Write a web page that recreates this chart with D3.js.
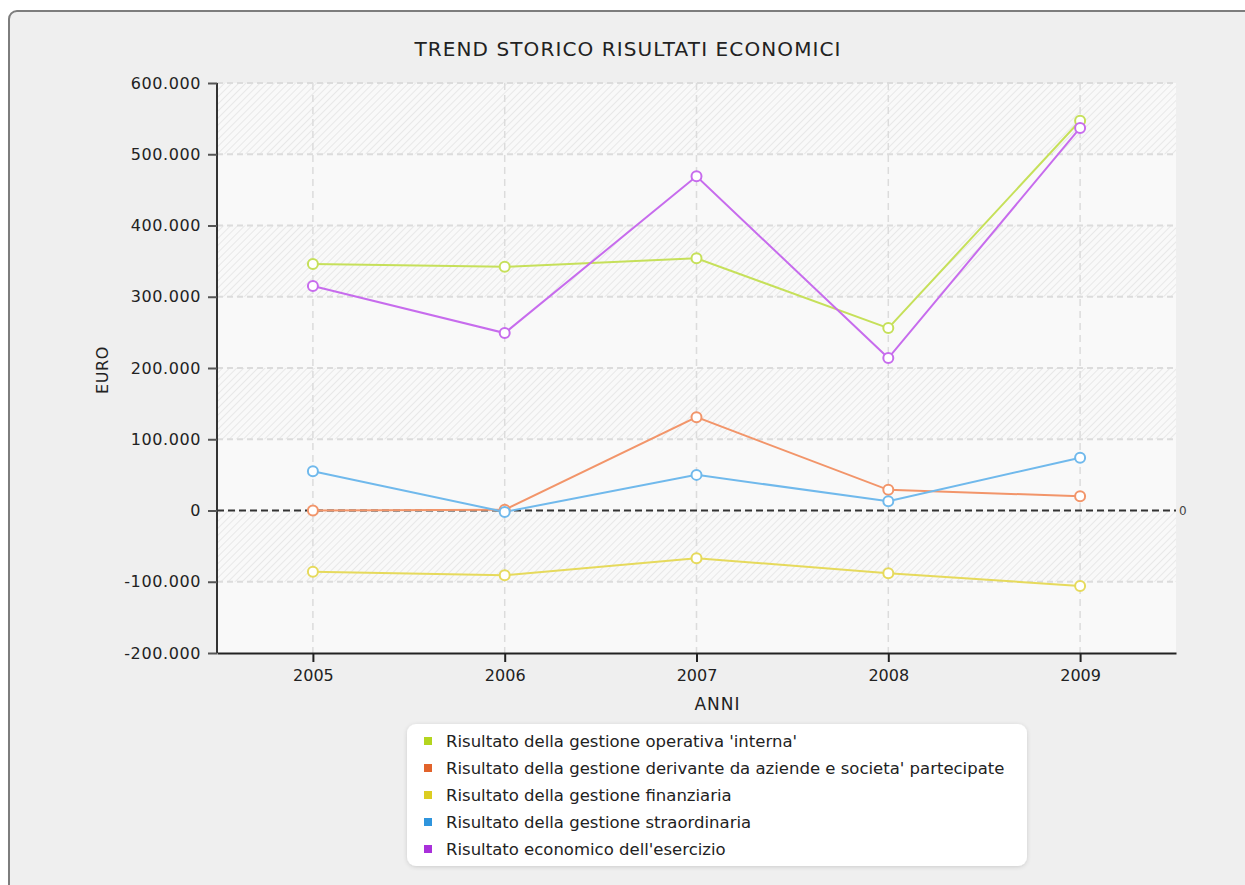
<!DOCTYPE html>
<html>
<head>
<meta charset="utf-8">
<script src="https://cdn.jsdelivr.net/npm/d3@7"></script>
<style>
  body { margin: 0; background: #fff; font-family: "DejaVu Sans", sans-serif; }
  svg { display: block; }
</style>
</head>
<body>
<div id="chart"></div>
<script>
// chart data
var years = ['2005', '2006', '2007', '2008', '2009'];
var seriesNames = [
    "Risultato della gestione operativa 'interna'",
    "Risultato della gestione derivante da aziende e societa' partecipate",
    "Risultato della gestione finanziaria",
    "Risultato della gestione straordinaria",
    "Risultato economico dell'esercizio"
];
var operativa = [346000, 342000, 354000, 256000, 547000];
var partecipate = [0, 1000, 131000, 29000, 20000];
var finanziaria = [-86000, -91000, -67000, -88000, -106000];
var straordinaria = [55000, -2000, 50000, 13000, 74000];
var esercizio = [315000, 249000, 469000, 214000, 537000];
var yTicks = [-200000, -100000, 0, 100000, 200000, 300000, 400000, 500000, 600000];

var lineColors = ['#c6e05a', '#f2956a', '#e6da5c', '#70b9ec', '#c76ced'];
var keyColors = ['#b4d51f', '#e2632b', '#dccd22', '#2f95dd', '#a930da'];
var allSeries = [operativa, partecipate, finanziaria, straordinaria, esercizio];

var W = 1245, H = 885;
var margin = {top: 83, left: 217, right: 69, bottom: 232};
var width = W - margin.left - margin.right;
var height = H - margin.top - margin.bottom;

// italian number format, plain hyphen as minus
var it = d3.formatLocale({decimal: ',', thousands: '.', grouping: [3], currency: ['€', ''], minus: '-'});
var fmt = it.format(',d');

var svg = d3.select('#chart').append('svg')
    .attr('width', W)
    .attr('height', H);

var defs = svg.append('defs');
var hatch = defs.append('pattern')
    .attr('id', 'hatch')
    .attr('patternUnits', 'userSpaceOnUse')
    .attr('width', 5)
    .attr('height', 5)
    .attr('patternTransform', 'rotate(45)');
hatch.append('rect').attr('width', 5).attr('height', 5).attr('fill', '#f9f9f9');
hatch.append('line')
    .attr('x1', 0).attr('y1', 0).attr('x2', 0).attr('y2', 5)
    .attr('stroke', '#e4e4e4').attr('stroke-width', 1.6);

var shadow = defs.append('filter').attr('id', 'shadow')
    .attr('x', '-5%').attr('y', '-10%').attr('width', '110%').attr('height', '125%');
shadow.append('feDropShadow')
    .attr('dx', 0).attr('dy', 1).attr('stdDeviation', 2)
    .attr('flood-color', '#000').attr('flood-opacity', 0.15);

// panel
svg.append('rect')
    .attr('x', 9).attr('y', 11)
    .attr('width', W + 20).attr('height', H + 20)
    .attr('rx', 8)
    .attr('fill', '#efefef')
    .attr('stroke', '#7d7d7d')
    .attr('stroke-width', 2);

// title
svg.append('text')
    .attr('x', 628).attr('y', 56)
    .attr('text-anchor', 'middle')
    .attr('font-size', 20)
    .attr('letter-spacing', '1.1px')
    .attr('fill', '#222')
    .text('TREND STORICO RISULTATI ECONOMICI');

var g = svg.append('g')
    .attr('transform', 'translate(' + margin.left + ',' + margin.top + ')');

var x = d3.scalePoint()
    .domain(years)
    .range([0, width])
    .padding(0.5);

var y = d3.scaleLinear()
    .domain([-200000, 600000])
    .range([height, 0]);

// plot background with alternating bands
g.append('rect')
    .attr('width', width).attr('height', height)
    .attr('fill', '#f9f9f9');

var bands = yTicks.slice(0, -1).map(function(t, i){ return [t, yTicks[i + 1]]; })
    .filter(function(b, i){ return i % 2 === 1; });
g.selectAll('.band').data(bands).enter().append('rect')
    .attr('class', 'band')
    .attr('x', 0)
    .attr('width', width)
    .attr('y', function(d){ return y(d[1]); })
    .attr('height', function(d){ return y(d[0]) - y(d[1]); })
    .attr('fill', 'url(#hatch)');

// grid
g.selectAll('.hgrid').data(yTicks.filter(function(t){ return t !== 0 && t !== -200000; })).enter().append('line')
    .attr('class', 'hgrid')
    .attr('x1', 0).attr('x2', width)
    .attr('y1', function(d){ return y(d); })
    .attr('y2', function(d){ return y(d); })
    .attr('stroke', '#dcdcdc')
    .attr('stroke-width', 2)
    .attr('stroke-dasharray', '6,4');

g.selectAll('.vgrid').data(years).enter().append('line')
    .attr('class', 'vgrid')
    .attr('x1', function(d){ return x(d); })
    .attr('x2', function(d){ return x(d); })
    .attr('y1', 0).attr('y2', height)
    .attr('stroke', '#dcdcdc')
    .attr('stroke-width', 1.5)
    .attr('stroke-dasharray', '7,5');

// zero line
g.append('line')
    .attr('x1', 0).attr('x2', width)
    .attr('y1', y(0)).attr('y2', y(0))
    .attr('stroke', '#333')
    .attr('stroke-width', 2)
    .attr('stroke-dasharray', '7,4');
g.append('text')
    .attr('x', width + 3).attr('y', y(0) + 4)
    .attr('font-size', 12)
    .attr('fill', '#444')
    .text('0');

// axes
var yAxis = d3.axisLeft(y)
    .tickValues(yTicks)
    .tickSize(9)
    .tickPadding(7)
    .tickFormat(function(d){ return fmt(d); });
var yg = g.append('g').attr('class', 'y axis').call(yAxis);
yg.select('.domain').attr('stroke', '#333').attr('stroke-width', 2)
    .attr('d', 'M0,0V' + height);
yg.selectAll('.tick line').attr('stroke', '#555').attr('stroke-width', 2);
yg.selectAll('.tick text').attr('font-size', 16).attr('fill', '#222')
    .attr('font-family', 'DejaVu Sans').attr('letter-spacing', '0.6px');

var xAxis = d3.axisBottom(x).tickSize(9).tickPadding(8).tickSizeOuter(0);
var xg = g.append('g').attr('class', 'x axis')
    .attr('transform', 'translate(0,' + height + ')')
    .call(xAxis);
xg.select('.domain').attr('stroke', '#222').attr('stroke-width', 2);
xg.selectAll('.tick line').attr('stroke', '#222').attr('stroke-width', 2);
xg.selectAll('.tick text').attr('font-size', 16).attr('fill', '#222')
    .attr('font-family', 'DejaVu Sans');

// axis titles
svg.append('text')
    .attr('transform', 'translate(108,' + (margin.top + y(200000) + 2) + ') rotate(-90)')
    .attr('text-anchor', 'middle')
    .attr('font-size', 16)
    .attr('letter-spacing', '0.6px')
    .attr('fill', '#222')
    .text('EURO');
svg.append('text')
    .attr('x', margin.left + x('2007') + 21)
    .attr('y', 710)
    .attr('text-anchor', 'middle')
    .attr('font-size', 17)
    .attr('letter-spacing', '1px')
    .attr('fill', '#222')
    .text('ANNI');

// lines and markers
var line = d3.line()
    .x(function(d, i){ return x(years[i]); })
    .y(function(d){ return y(d); });

allSeries.forEach(function(vals, s){
    g.append('path')
        .attr('d', line(vals))
        .attr('fill', 'none')
        .attr('stroke', lineColors[s])
        .attr('stroke-width', 2);
});
allSeries.forEach(function(vals, s){
    g.selectAll('.pt' + s).data(vals).enter().append('circle')
        .attr('class', 'pt' + s)
        .attr('cx', function(d, i){ return x(years[i]); })
        .attr('cy', function(d){ return y(d); })
        .attr('r', 5)
        .attr('fill', '#fff')
        .attr('stroke', lineColors[s])
        .attr('stroke-width', 2);
});

// legend
var lg = svg.append('g').attr('transform', 'translate(407,724)');
lg.append('rect')
    .attr('width', 620).attr('height', 142)
    .attr('rx', 9)
    .attr('fill', '#fff')
    .attr('filter', 'url(#shadow)');
var items = lg.selectAll('.item').data(seriesNames).enter().append('g')
    .attr('class', 'item')
    .attr('transform', function(d, i){ return 'translate(0,' + (17 + i * 27) + ')'; });
items.append('rect')
    .attr('x', 17).attr('y', -4)
    .attr('width', 8).attr('height', 8)
    .attr('fill', function(d, i){ return keyColors[i]; });
items.append('text')
    .attr('x', 39).attr('y', 6)
    .attr('font-size', 16.5)
    .attr('fill', '#222')
    .text(function(d){ return d; });
</script>
</body>
</html>
